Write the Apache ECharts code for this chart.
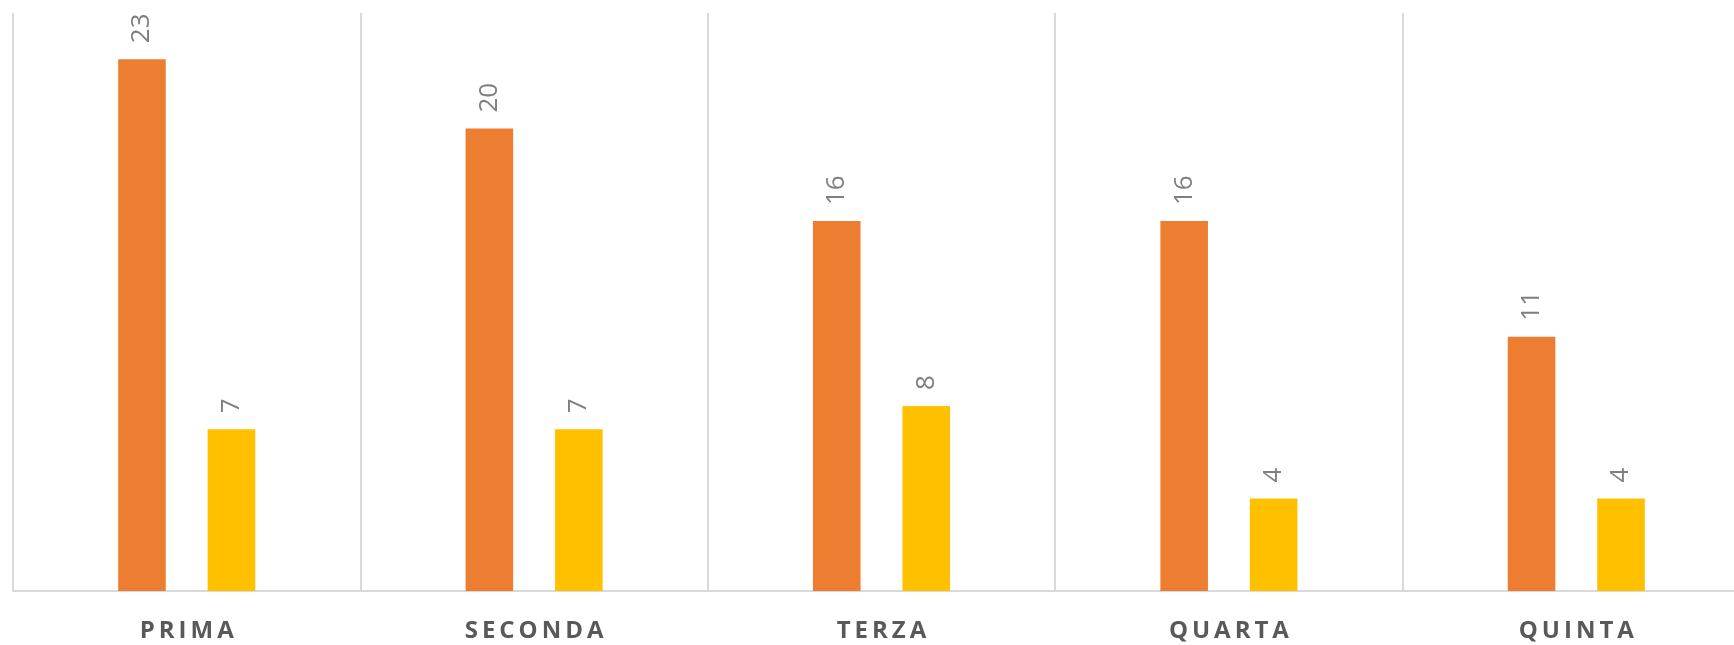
<!DOCTYPE html>
<html>
<head>
<meta charset="utf-8">
<script src="https://cdn.jsdelivr.net/npm/echarts@6/dist/echarts.min.js"></script>
<style>
html,body{margin:0;padding:0;background:#fff;overflow:hidden;width:1734px;height:645px;}
#chart{width:1750px;height:645px;}
</style>
</head>
<body>
<div id="chart"></div>
<script>
var categories = ['PRIMA', 'SECONDA', 'TERZA', 'QUARTA', 'QUINTA'];
var seriesA = [23, 20, 16, 16, 11];
var seriesB = [7, 7, 8, 4, 4];
var yMax = 25;

var chart = echarts.init(document.getElementById('chart'));
var labelCfg = {
  show: true,
  position: 'top',
  rotate: 90,
  align: 'left',
  verticalAlign: 'middle',
  distance: 16,
  color: '#7f7f7f',
  fontSize: 26,
  fontFamily: 'Open Sans'
};
chart.setOption({
  animation: false,
  backgroundColor: '#ffffff',
  grid: { left: 13, top: 13, bottom: 54, right: 0, containLabel: false },
  xAxis: {
    type: 'category',
    data: categories,
    axisLine: { show: true, lineStyle: { color: '#d9d9d9', width: 2 } },
    axisTick: { show: false },
    splitLine: { show: true, lineStyle: { color: '#d9d9d9', width: 2 } },
    axisLabel: {
      margin: 28,
      color: '#595959',
      fontSize: 24,
      fontWeight: 'bold',
      fontFamily: 'Open Sans',
      formatter: function (v) { return v.split('').join('\u2009'); }
    }
  },
  yAxis: {
    type: 'value',
    min: 0,
    max: yMax,
    show: false,
    splitLine: { show: false }
  },
  series: [
    {
      type: 'bar',
      data: seriesA,
      barWidth: '13.7%',
      barGap: '88%',
      itemStyle: { color: '#ED7D31' },
      label: labelCfg
    },
    {
      type: 'bar',
      data: seriesB,
      barWidth: '13.7%',
      barGap: '88%',
      itemStyle: { color: '#FFC000' },
      label: labelCfg
    }
  ]
});
</script>
</body>
</html>
